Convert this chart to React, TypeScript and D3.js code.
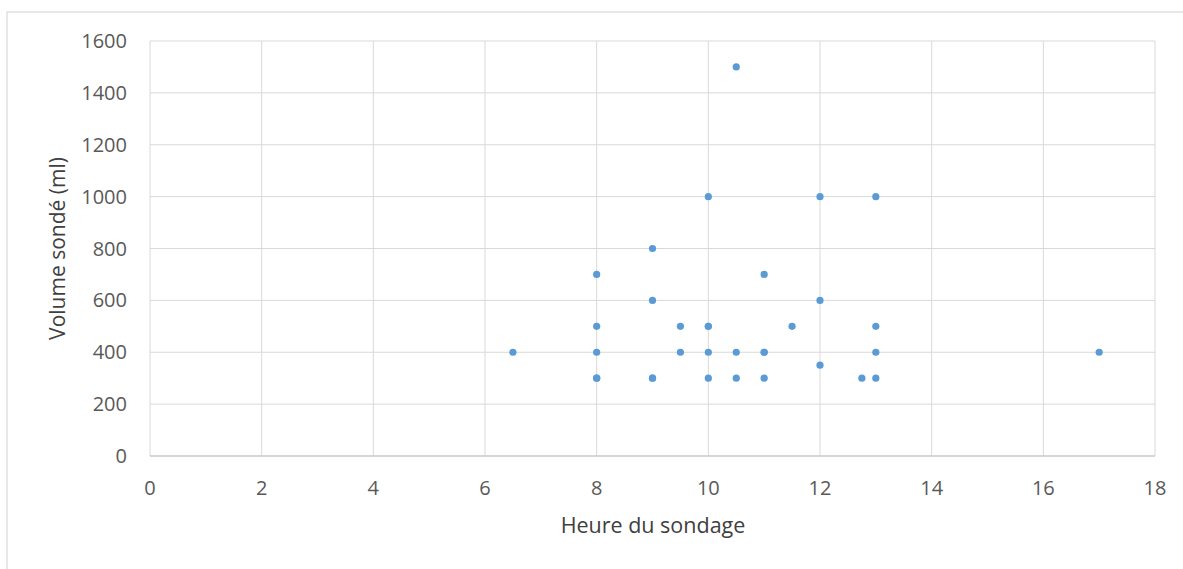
import React from "react";
import * as d3 from "d3";

const hours = [6.5, 8, 8, 8, 8, 8, 9, 9, 9, 9, 9.5, 9.5, 10, 10, 10, 10, 10, 10.5, 10.5, 10.5, 11, 11, 11, 11, 11.5, 12, 12, 12, 12.75, 13, 13, 13, 13, 17];
const volumes = [400, 700, 500, 400, 300, 300, 800, 600, 300, 300, 500, 400, 1000, 500, 500, 400, 300, 1500, 400, 300, 700, 400, 400, 300, 500, 1000, 600, 350, 300, 1000, 500, 400, 300, 400];
const xTicks = [0, 2, 4, 6, 8, 10, 12, 14, 16, 18];
const yTicks = [0, 200, 400, 600, 800, 1000, 1200, 1400, 1600];
const xTitle = "Heure du sondage";
const yTitle = "Volume sondé (ml)";

const W = 1183;
const H = 569;
const left = 150;
const right = 1155;
const top = 41;
const bottom = 456;
const font = "'Open Sans', sans-serif";

export default function App() {
  const x = d3.scaleLinear().domain([0, 18]).range([left, right]);
  const y = d3.scaleLinear().domain([0, 1600]).range([bottom, top]);
  const pts = hours.map((h, i) => ({ h, v: volumes[i] }));
  return (
    <svg width={W} height={H} style={{ position: "absolute", left: 0, top: 0, background: "#fff" }}>
      <rect x={7} y={12} width={W} height={H} fill="#fff" stroke="#d9d9d9" strokeWidth={1.2} />
      {yTicks.map((t) => (
        <line key={"gy" + t} x1={left} x2={right} y1={y(t)} y2={y(t)} stroke="#d9d9d9" strokeWidth={1} />
      ))}
      {xTicks.map((t) => (
        <line key={"gx" + t} x1={x(t)} x2={x(t)} y1={top} y2={bottom} stroke="#d9d9d9" strokeWidth={1} />
      ))}
      <line x1={left} x2={right} y1={bottom} y2={bottom} stroke="#bfbfbf" strokeWidth={1.2} />
      {yTicks.map((t) => (
        <text key={"ty" + t} x={127} y={y(t)} dy="0.35em" textAnchor="end" fontFamily={font} fontSize={20} fill="#595959">
          {t}
        </text>
      ))}
      {xTicks.map((t) => (
        <text key={"tx" + t} x={x(t)} y={495} textAnchor="middle" fontFamily={font} fontSize={20} fill="#595959">
          {t}
        </text>
      ))}
      <text x={653} y={533} textAnchor="middle" fontFamily={font} fontSize={21.5} fill="#404040">
        {xTitle}
      </text>
      <text transform={`translate(65, ${(top + bottom) / 2}) rotate(-90)`} textAnchor="middle" fontFamily={font} fontSize={21} fill="#404040">
        {yTitle}
      </text>
      {pts.map((p, i) => (
        <circle key={i} cx={x(p.h)} cy={y(p.v)} r={3.6} fill="#5B9BD5" />
      ))}
    </svg>
  );
}
